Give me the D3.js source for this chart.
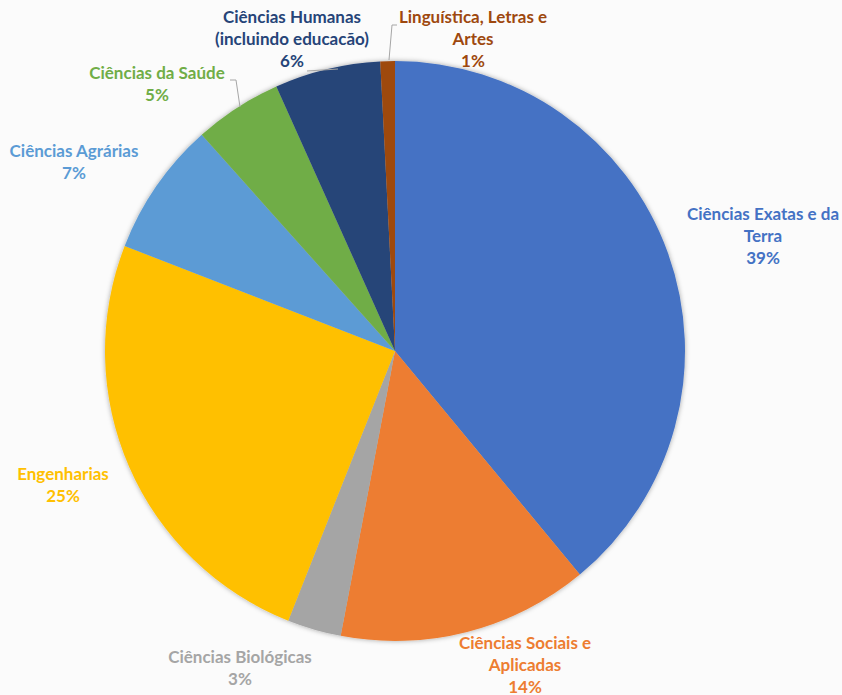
<!DOCTYPE html>
<html>
<head>
<meta charset="utf-8">
<script src="https://cdn.jsdelivr.net/npm/d3@7"></script>
<style>
  body { margin: 0; background: #fbfbfb; }
  svg { display: block; }
  text { font-family: Lato, "Open Sans", sans-serif; font-weight: 700; font-size: 17px; }
</style>
</head>
<body>
<svg width="842" height="695"></svg>
<script>
// areas, clockwise from 12 o'clock
var areas = ['Ciências Exatas e da Terra', 'Ciências Sociais e Aplicadas', 'Ciências Biológicas',
             'Engenharias', 'Ciências Agrárias', 'Ciências da Saúde',
             'Ciências Humanas (incluindo educacão)', 'Linguística, Letras e Artes'];
var shares = [39.0, 14.0, 3.0, 24.9, 7.49, 4.9, 5.9, 0.81];
var pctLabels = ['39%', '14%', '3%', '25%', '7%', '5%', '6%', '1%'];
var labelLines = [
  ['Ciências Exatas e da', 'Terra'],
  ['Ciências Sociais e', 'Aplicadas'],
  ['Ciências Biológicas'],
  ['Engenharias'],
  ['Ciências Agrárias'],
  ['Ciências da Saúde'],
  ['Ciências Humanas', '(incluindo educacão)'],
  ['Linguística, Letras e', 'Artes']
];
var colors = ['#4472c4', '#ed7d31', '#a5a5a5', '#ffc000', '#5b9bd5', '#70ad47', '#264478', '#9e480e'];

var svg = d3.select('svg');
var cx = 395, cy = 351, radius = 290, lineH = 22;

// where the label blocks sit (centre x, first baseline y)
var labelPos = [[763, 220], [525, 649], [240, 663], [63, 480], [74, 157], [157, 79], [292, 23], [473, 23]];

var defs = svg.append('defs');
var shadow = defs.append('filter').attr('id', 'shadow')
  .attr('x', '-10%').attr('y', '-10%').attr('width', '120%').attr('height', '120%');
shadow.append('feDropShadow')
  .attr('dx', 0).attr('dy', 0).attr('stdDeviation', 2.5)
  .attr('flood-color', '#000').attr('flood-opacity', 0.35);

var pie = d3.pie().sort(null).value(function(d) { return d; });
var arc = d3.arc().innerRadius(0).outerRadius(radius);

var g = svg.append('g').attr('transform', 'translate(' + cx + ',' + cy + ')');
g.append('g').attr('filter', 'url(#shadow)')
  .selectAll('path')
  .data(pie(shares))
  .enter().append('path')
    .attr('d', arc)
    .attr('fill', function(d, i) { return colors[i]; });

// leader lines
var leaders = [
  [[230, 80], [236, 80], [240, 107]],
  [[397, 25], [392, 25], [389, 60]],
  [[307, 71], [338, 69]]
];
var line = d3.line();
svg.selectAll('path.leader')
  .data(leaders)
  .enter().append('path')
    .attr('class', 'leader')
    .attr('d', line)
    .attr('fill', 'none')
    .attr('stroke', '#a6a6a6')
    .attr('stroke-width', 1);

var labels = svg.selectAll('text.lbl')
  .data(areas)
  .enter().append('text')
    .attr('class', 'lbl')
    .attr('text-anchor', 'middle')
    .attr('fill', function(d, i) { return colors[i]; });

labels.each(function(d, i) {
  var t = d3.select(this);
  var lines = labelLines[i].concat([pctLabels[i]]);
  lines.forEach(function(s, j) {
    t.append('tspan')
      .attr('x', labelPos[i][0])
      .attr('y', labelPos[i][1] + j * lineH)
      .text(s);
  });
});
</script>
</body>
</html>
